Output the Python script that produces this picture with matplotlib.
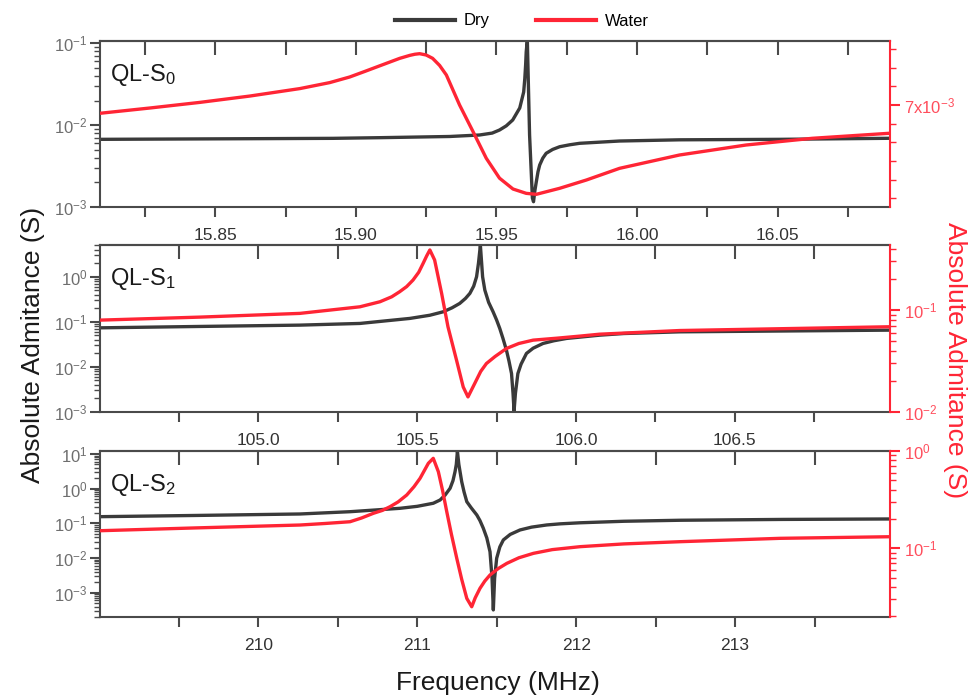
import numpy as np
import matplotlib
matplotlib.use("Agg")
import matplotlib.pyplot as plt
from matplotlib.ticker import (MultipleLocator, LogLocator, NullFormatter,
                               FormatStrFormatter, FixedLocator, FixedFormatter)
from matplotlib.lines import Line2D

plt.rcParams['font.family'] = ['Liberation Sans', 'DejaVu Sans']
plt.rcParams['mathtext.fontset'] = 'custom'
plt.rcParams['mathtext.rm'] = 'Liberation Sans'
plt.rcParams['mathtext.it'] = 'Liberation Sans:italic'
plt.rcParams['mathtext.bf'] = 'Liberation Sans:bold'

# ---------------- data ----------------
# Panel QL-S0 (frequency in MHz, admittance in S)
dry0_f = [15.809, 15.8918, 15.9085, 15.9334, 15.9440, 15.9485, 15.9511, 15.9535,
          15.9558, 15.9583, 15.9597, 15.9601, 15.9604, 15.9606, 15.9610, 15.9618,
          15.9628, 15.9632, 15.9637, 15.9642, 15.9648, 15.9654, 15.9665, 15.9677,
          15.9700, 15.9725, 15.9760, 15.9796, 15.9938, 16.0151, 16.0507, 16.0897]
dry0_y = [6.71e-3, 6.9e-3, 7.03e-3, 7.27e-3, 7.58e-3, 8.0e-3, 8.72e-3, 9.8e-3,
          1.156e-2, 1.621e-2, 2.541e-2, 3.7e-2, 5.5e-2, 7.83e-2, 0.11, 7.58e-3,
          1.29e-3, 1.16e-3, 1.6e-3, 2.04e-3, 2.7e-3, 3.26e-3, 3.95e-3, 4.53e-3,
          5.05e-3, 5.45e-3, 5.75e-3, 6.0e-3, 6.4e-3, 6.62e-3, 6.71e-3, 6.91e-3]
wat0_f = [15.8090, 15.8268, 15.8445, 15.8623, 15.8801, 15.8907, 15.8978, 15.9032,
          15.9085, 15.9156, 15.9192, 15.9210, 15.9227, 15.9250, 15.9273, 15.9298,
          15.9322, 15.9369, 15.9417, 15.9464, 15.9511, 15.9559, 15.9606, 15.9642,
          15.9725, 15.9820, 15.9938, 16.0151, 16.0388, 16.0624, 16.0897]
wat0_y = [6.778e-3, 6.92e-3, 7.07e-3, 7.24e-3, 7.44e-3, 7.60e-3, 7.75e-3, 7.90e-3,
          8.05e-3, 8.25e-3, 8.33e-3, 8.36e-3, 8.375e-3, 8.34e-3, 8.251e-3, 8.06e-3,
          7.804e-3, 7.0e-3, 6.285e-3, 5.572e-3, 5.04e-3, 4.749e-3, 4.633e-3, 4.607e-3,
          4.768e-3, 4.99e-3, 5.303e-3, 5.66e-3, 5.928e-3, 6.108e-3, 6.242e-3]

# Panel QL-S1
dry1_f = [104.502, 104.816, 105.131, 105.320, 105.477, 105.540, 105.582, 105.610,
          105.634, 105.652, 105.666, 105.678, 105.687, 105.693, 105.699, 105.706,
          105.713, 105.725, 105.739, 105.750, 105.760, 105.770, 105.781, 105.789,
          105.797, 105.8017, 105.805, 105.8093, 105.817, 105.827, 105.844, 105.865,
          105.896, 105.930, 105.970, 106.074, 106.150, 106.326, 106.986]
dry1_y = [0.0736, 0.079, 0.0845, 0.0921, 0.119, 0.14, 0.167, 0.205,
          0.256, 0.33, 0.428, 0.62, 1.0, 2.0, 5.0, 1.0,
          0.506, 0.27, 0.167, 0.11, 0.0713, 0.043, 0.0235, 0.0135,
          7.13e-3, 2.6e-3, 1.05e-3, 2.6e-3, 7.13e-3, 0.0115, 0.0199, 0.026,
          0.0331, 0.038, 0.0428, 0.0506, 0.055, 0.060, 0.0654]
wat1_f = [104.502, 104.816, 105.131, 105.320, 105.383, 105.420, 105.445, 105.467,
          105.487, 105.505, 105.519, 105.530, 105.540, 105.555, 105.577, 105.597,
          105.624, 105.645, 105.660, 105.681, 105.700, 105.718, 105.745, 105.781,
          105.820, 105.865, 105.940, 106.011, 106.074, 106.326, 106.986]
wat1_y = [0.0797, 0.0853, 0.0928, 0.1077, 0.1207, 0.135, 0.1514, 0.17,
          0.197, 0.235, 0.288, 0.34, 0.389, 0.310, 0.146, 0.0686,
          0.0322, 0.0176, 0.01406, 0.0190, 0.025, 0.0299, 0.035, 0.0420,
          0.047, 0.0507, 0.053, 0.0555, 0.058, 0.063, 0.0686]

# Panel QL-S2
dry2_f = [209.004, 209.600, 210.263, 210.577, 210.892, 211.000, 211.101, 211.144,
          211.175, 211.207, 211.225, 211.238, 211.246, 211.253, 211.262, 211.280,
          211.295, 211.312, 211.340, 211.375, 211.395, 211.416, 211.438, 211.458,
          211.471, 211.479, 211.487, 211.500, 211.520, 211.542, 211.585, 211.647,
          211.720, 211.815, 211.900, 212.025, 212.300, 212.654, 213.300, 213.976]
dry2_y = [0.156, 0.169, 0.1866, 0.217, 0.272, 0.31, 0.38, 0.472,
          0.65, 1.028, 1.7, 3.09, 5.0, 12.0, 5.0, 1.59,
          0.8, 0.422, 0.28, 0.1746, 0.12, 0.0723, 0.038, 0.01528,
          2.62e-3, 3.2e-4, 2.6e-3, 9.87e-3, 0.021, 0.0333, 0.048, 0.0646,
          0.078, 0.090, 0.097, 0.104, 0.115, 0.123, 0.130, 0.134]
wat2_f = [209.004, 209.600, 210.263, 210.420, 210.577, 210.650, 210.724, 210.780,
          210.829, 210.880, 210.934, 210.980, 211.018, 211.045, 211.070, 211.101,
          211.133, 211.160, 211.186, 211.215, 211.249, 211.280, 211.312, 211.343,
          211.365, 211.395, 211.425, 211.458, 211.510, 211.564, 211.640, 211.731,
          211.850, 212.025, 212.300, 212.654, 213.283, 213.976]
wat2_y = [0.1517, 0.162, 0.1736, 0.18, 0.1876, 0.205, 0.229, 0.245,
          0.2677, 0.30, 0.353, 0.43, 0.524, 0.63, 0.747, 0.841,
          0.613, 0.39, 0.2377, 0.14, 0.0789, 0.048, 0.0306, 0.0251,
          0.031, 0.0388, 0.046, 0.0532, 0.062, 0.0701, 0.080, 0.0888,
          0.097, 0.104, 0.111, 0.117, 0.1267, 0.1316]

panel_labels = ['QL-S$_0$', 'QL-S$_1$', 'QL-S$_2$']
series_labels = ['Dry', 'Water']
xlabel = 'Frequency (MHz)'
ylabel = 'Absolute Admitance (S)'

# ---------------- style ----------------
DRY_C = '#3a3a3a'
RED_C = '#ff2535'
RED_T = '#ff4d5c'
SPINE_C = '#4a4a4a'
XT_C = '#333333'
YT_C = '#6e6e6e'

fig = plt.figure(figsize=(9.72, 7.0), dpi=100)

L = 100 / 972
W = 790 / 972
boxes = [(41, 207), (245, 412), (451, 617)]

xlims = [(15.809, 16.090), (104.502, 106.988), (209.004, 213.975)]
xmaj = [0.05, 0.5, 1.0]
xfmt = ['%.2f', '%.1f', '%d']
ylims_l = [(1e-3, 0.1067), (1e-3, 5.06), (2.0e-4, 12.2)]
ylims_r = [(4.267e-3, 8.715e-3), (1e-2, 0.435), (0.0197, 1.0)]

dry = [(dry0_f, dry0_y), (dry1_f, dry1_y), (dry2_f, dry2_y)]
wat = [(wat0_f, wat0_y), (wat1_f, wat1_y), (wat2_f, wat2_y)]

for i, (top, bot) in enumerate(boxes):
    ax = fig.add_axes([L, 1 - bot / 700, W, (bot - top) / 700])
    ax2 = ax.twinx()

    ax.plot(dry[i][0], dry[i][1], color=DRY_C, lw=2.4, solid_joinstyle='round')
    ax2.plot(wat[i][0], wat[i][1], color=RED_C, lw=2.4, solid_joinstyle='round')

    ax.set_xlim(*xlims[i])
    ax.set_yscale('log')
    ax.set_ylim(*ylims_l[i])

    # x ticks
    ax.xaxis.set_major_locator(MultipleLocator(xmaj[i]))
    ax.xaxis.set_minor_locator(MultipleLocator(xmaj[i] / 2))
    ax.xaxis.set_major_formatter(FormatStrFormatter(xfmt[i]))
    ax.tick_params(axis='x', which='both', direction='out', length=7, width=1.5,
                   color=SPINE_C, labelsize=12.5, labelcolor=XT_C, pad=8, top=False)
    sec = ax.secondary_xaxis('top')
    sec.xaxis.set_major_locator(MultipleLocator(xmaj[i]))
    sec.xaxis.set_minor_locator(MultipleLocator(xmaj[i] / 2))
    sec.tick_params(axis='x', which='both', direction='in', length=10, width=1.5,
                    color=SPINE_C, labeltop=False)
    sec.spines['top'].set_color(SPINE_C)
    sec.spines['top'].set_linewidth(1.5)

    # left y ticks
    ax.yaxis.set_major_locator(LogLocator(base=10, numticks=30))
    ax.yaxis.set_minor_locator(LogLocator(base=10, subs=np.arange(2, 10), numticks=30))
    ax.yaxis.set_minor_formatter(NullFormatter())
    ax.tick_params(axis='y', which='major', direction='out', length=7, width=1.5,
                   color=SPINE_C, labelsize=12, labelcolor=YT_C, pad=2)
    ax.tick_params(axis='y', which='minor', direction='out', length=4, width=1.0,
                   color=SPINE_C)

    for s in ['left', 'bottom', 'top']:
        ax.spines[s].set_color(SPINE_C)
        ax.spines[s].set_linewidth(1.5)
    for s in ['left', 'bottom', 'top']:
        ax2.spines[s].set_visible(False)
    ax2.spines['right'].set_color(RED_C)
    ax2.spines['right'].set_linewidth(1.5)
    ax.spines['right'].set_visible(False)

    # right y axis
    if i == 0:
        ax2.set_ylim(*ylims_r[i])
        ax2.yaxis.set_major_locator(FixedLocator([7e-3]))
        ax2.yaxis.set_major_formatter(FixedFormatter(['7x10$^{-3}$']))
        ax2.yaxis.set_minor_locator(MultipleLocator(0.5e-3))
    else:
        ax2.set_yscale('log')
        ax2.set_ylim(*ylims_r[i])
        ax2.yaxis.set_major_locator(LogLocator(base=10, numticks=30))
        ax2.yaxis.set_minor_locator(LogLocator(base=10, subs=np.arange(2, 10), numticks=30))
        ax2.yaxis.set_minor_formatter(NullFormatter())
    ax2.tick_params(axis='y', which='major', direction='out', length=7, width=1.5,
                    color=RED_C, labelsize=12, labelcolor=RED_T, pad=3)
    ax2.tick_params(axis='y', which='minor', direction='out', length=4, width=1.0,
                    color=RED_C)

    ax.text(0.013, 0.795, panel_labels[i], transform=ax.transAxes, fontsize=17,
            ha='left', va='center', color='#1a1a1a')

fig.text(33 / 972, 1 - 345 / 700, ylabel, rotation=90, ha='center', va='center',
         fontsize=19, color='#1a1a1a')
fig.text(955 / 972, 1 - 360 / 700, ylabel, rotation=270, ha='center', va='center',
         fontsize=19, color=RED_C)
fig.text(498 / 972, 1 - 683 / 700, xlabel, ha='center', va='center',
         fontsize=19, color='#1a1a1a')

handles = [Line2D([], [], color=DRY_C, lw=3), Line2D([], [], color=RED_C, lw=3)]
fig.legend(handles, series_labels, loc='center', bbox_to_anchor=(522 / 972, 1 - 21 / 700),
           ncol=2, frameon=False, fontsize=12, handlelength=3.6, handletextpad=0.5,
           columnspacing=2.8, borderpad=0, borderaxespad=0)

fig.savefig('out.png', dpi=100)
